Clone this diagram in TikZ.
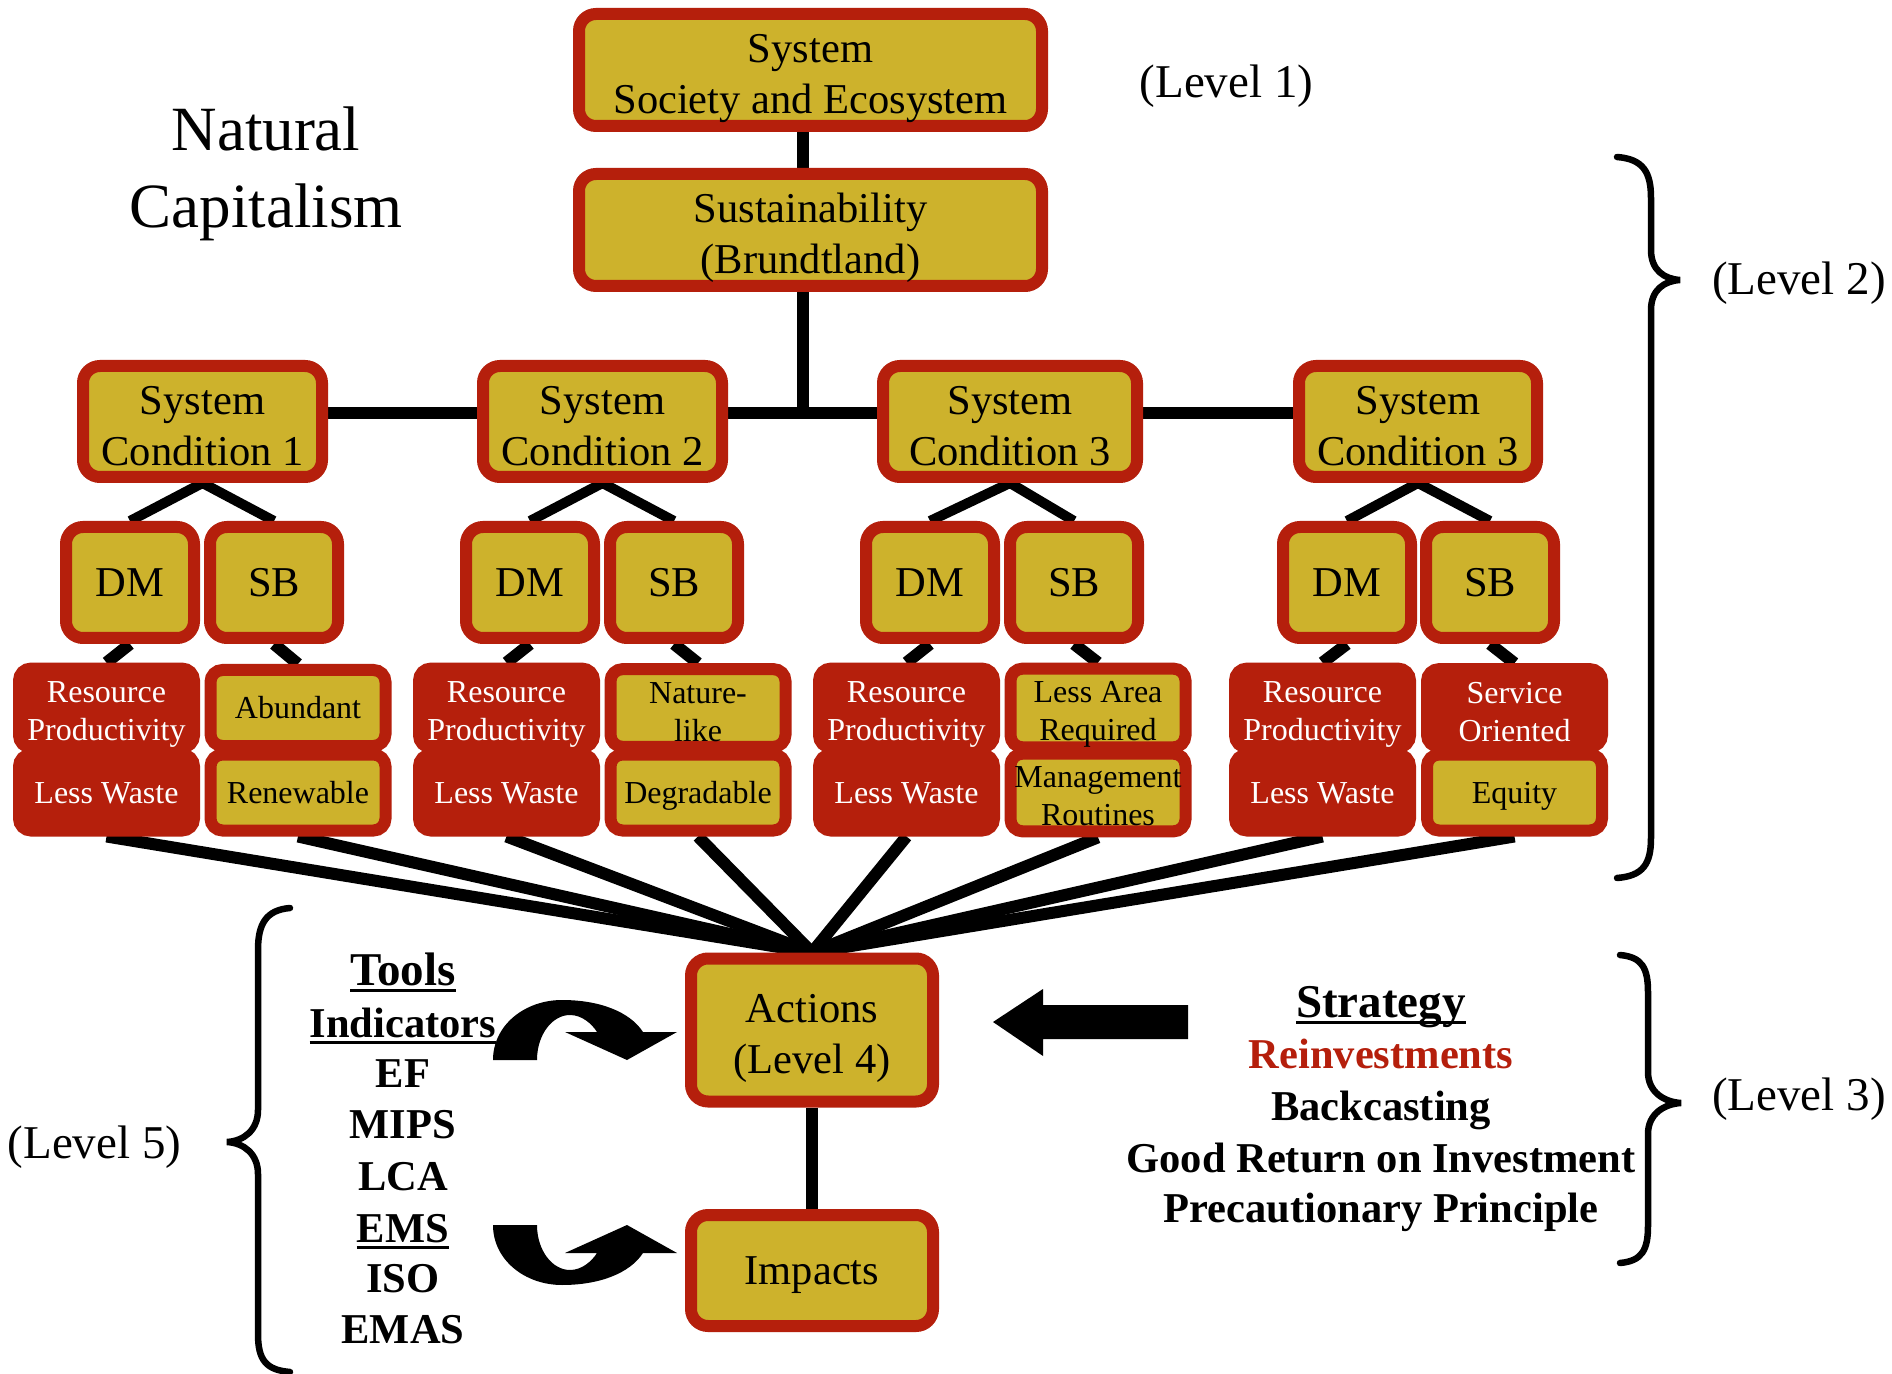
\documentclass[tikz,border=0pt]{standalone}
\usepackage{fontspec}
\setmainfont{Liberation Serif}
\usetikzlibrary{backgrounds}

\definecolor{cred}{RGB}{181,31,12}
\definecolor{cyel}{RGB}{205,178,44}

\newcommand\boxfont{\fontsize{21.25pt}{25.5pt}\selectfont}
\newcommand\lowfont{\fontsize{16pt}{19pt}\selectfont}
\newcommand\lvlfont{\fontsize{23.5pt}{28pt}\selectfont}
\newcommand\titlefont{\fontsize{31.5pt}{38.5pt}\selectfont}
\newcommand\listfont{\fontsize{21.25pt}{25.5pt}\selectfont\bfseries}
\newcommand\headfont{\fontsize{23.5pt}{28pt}\selectfont\bfseries}
% thick underline drawn as a rule under the text
\newcommand\uline[1]{\setbox0\hbox{#1}\leavevmode\rlap{\rule[-3.5pt]{\wd0}{1.5pt}}\box0}
% box labels measured by ascent and descent of the font, not by their ink
\newcommand\ascstrut{\rule{0pt}{0.891em}}
\newcommand\descstrut{\rule[-0.216em]{0pt}{0.216em}}
\newcommand\oneline[1]{\ascstrut#1\descstrut}
\newcommand\twoline[2]{\vbox{\halign{\hfil##\hfil\cr
  \rule{0pt}{1.06em}#1\cr#2\rule[-0.18em]{0pt}{0.18em}\cr}}}

\begin{document}
\begin{tikzpicture}[x=0.5pt,y=-0.5pt,
  mainbox/.style={draw=cred, fill=cyel, line width=6pt, rounded corners=8.5pt,
    inner sep=0pt, font=\boxfont, text=black},
  dmbox/.style={mainbox, minimum width=64pt, minimum height=55.5pt},
  lowbox/.style={draw=cred, line width=6pt, rounded corners=6pt, inner sep=0pt,
    font=\lowfont, minimum width=87.5pt, minimum height=38pt},
  lowy/.style={lowbox, fill=cyel, text=black},
  lowr/.style={lowbox, fill=cred, text=white},
  conn/.style={line width=6pt, black},
  thinconn/.style={line width=5pt, black, line join=miter},
  brace/.style={line width=3.25pt, black, line cap=round},
  lvl/.style={font=\lvlfont, anchor=base, inner sep=0pt},
  tool/.style={font=\listfont, anchor=base, inner sep=0pt},
  toolhead/.style={font=\headfont, anchor=base, inner sep=0pt},
]
\useasboundingbox (0,0) rectangle (1892,1374);

% ---- top of the hierarchy ----
\node[mainbox, minimum width=231.5pt, minimum height=56pt] (sys) at (810.5,70)
  {\twoline{System}{Society and Ecosystem}};
\node[mainbox, minimum width=231.5pt, minimum height=56pt] (sust) at (810.5,230)
  {\twoline{Sustainability}{(Brundtland)}};

% ---- system conditions ----
\node[mainbox, minimum width=119.5pt, minimum height=55.5pt] (sc1) at (202.5,421.5) {\twoline{System}{Condition 1}};
\node[mainbox, minimum width=119.5pt, minimum height=55.5pt] (sc2) at (602.5,421.5) {\twoline{System}{Condition 2}};
\node[mainbox, minimum width=127pt, minimum height=55.5pt] (sc3) at (1010,421.5) {\twoline{System}{Condition 3}};
\node[mainbox, minimum width=119pt, minimum height=55.5pt] (sc4) at (1418,421.5) {\twoline{System}{Condition 3}};

% ---- DM / SB ----
\node[dmbox] (dm1) at (130,582.5) {\oneline{DM}};
\node[dmbox] (sb1) at (274,582.5) {\oneline{SB}};
\node[dmbox] (dm2) at (530,582.5) {\oneline{DM}};
\node[dmbox] (sb2) at (674,582.5) {\oneline{SB}};
\node[dmbox] (dm3) at (930,582.5) {\oneline{DM}};
\node[dmbox] (sb3) at (1074,582.5) {\oneline{SB}};
\node[dmbox] (dm4) at (1347,582.5) {\oneline{DM}};
\node[dmbox] (sb4) at (1490,582.5) {\oneline{SB}};

% ---- principles under each condition ----
\node[lowr] (l1t) at (106.5,708) {\twoline{Resource}{Productivity}};
\node[lowr] (l1b) at (106.5,792.5) {\oneline{Less Waste}};
\node[lowy] (r1t) at (298,708) {\oneline{Abundant}};
\node[lowy] (r1b) at (298,792.5) {\oneline{Renewable}};

\node[lowr] (l2t) at (506.5,708) {\twoline{Resource}{Productivity}};
\node[lowr] (l2b) at (506.5,792.5) {\oneline{Less Waste}};
\node[lowy] (r2t) at (698,708) {\twoline{Nature-}{like}};
\node[lowy] (r2b) at (698,792.5) {\oneline{Degradable}};

\node[lowr] (l3t) at (906.5,708) {\twoline{Resource}{Productivity}};
\node[lowr] (l3b) at (906.5,792.5) {\oneline{Less Waste}};
\node[lowy] (r3t) at (1098,708) {\twoline{Less Area}{Required}};
\node[lowy] (r3b) at (1098,792.5) {\twoline{Management}{Routines}};

\node[lowr] (l4t) at (1322.5,708) {\twoline{Resource}{Productivity}};
\node[lowr] (l4b) at (1322.5,792.5) {\oneline{Less Waste}};
\node[lowr] (r4t) at (1514.5,708) {\twoline{Service}{Oriented}};
\node[lowy] (r4b) at (1514.5,792.5) {\oneline{Equity}};

% ---- actions and impacts ----
\node[mainbox, minimum width=121pt, minimum height=71.5pt] (act) at (812,1030) {\twoline{Actions}{(Level 4)}};
\node[mainbox, minimum width=121pt, minimum height=55.5pt] (imp) at (812,1270.5) {\oneline{Impacts}};

\coordinate (jn) at (803,413);

% ---- connectors (behind the boxes) ----
\begin{pgfonlayer}{background}
  \fill[white] (0,0) rectangle (1892,1374);
  \draw[conn] ([xshift=-3.75pt]sys.south) -- ([xshift=-3.75pt]sust.north);
  \draw[conn] ([xshift=-3.75pt]sust.south) -- (jn);
  \draw[conn] ([yshift=4.25pt]sc1.east) -- ([yshift=4.25pt]sc4.west);
  \foreach \i in {1,2,3,4}{
    \draw[thinconn] (dm\i.north) -- (sc\i.south) -- (sb\i.north);
    \draw[conn] (dm\i.south) -- (l\i t.north);
    \draw[conn] (sb\i.south) -- (r\i t.north);
    \draw[conn] (l\i b.south) -- (act.north);
    \draw[conn] (r\i b.south) -- (act.north);
  }
  \draw[conn] (act.south) -- (imp.north);
\end{pgfonlayer}

% ---- titles and level labels ----
\node[font=\titlefont, align=center, inner sep=0pt] (title) at (266,174) {Natural\\Capitalism};
\node[lvl] (lv1) at (1226.5,98) {(Level 1)};
\node[lvl] (lv2) at (1799,295) {(Level 2)};
\node[lvl] (lv3) at (1799,1110) {(Level 3)};
\node[lvl] (lv5) at (94.5,1158) {(Level 5)};

% ---- braces ----
\draw[brace] (1617,157) .. controls (1643,159) and (1651,172) .. (1651,198)
  -- (1651,250) .. controls (1651,270) and (1664,279) .. (1680,280)
  .. controls (1664,281) and (1651,290) .. (1651,310)
  -- (1651,838) .. controls (1651,864) and (1643,876) .. (1617,878);
\draw[brace] (1620,955) .. controls (1642,957) and (1648,968) .. (1648,992)
  -- (1648,1072) .. controls (1648,1092) and (1664,1102) .. (1681,1103)
  .. controls (1664,1104) and (1648,1114) .. (1648,1134)
  -- (1648,1226) .. controls (1648,1250) and (1642,1261) .. (1620,1263);
\draw[brace] (290,908) .. controls (266,910) and (258,924) .. (258,950)
  -- (258,1110) .. controls (258,1130) and (244,1141) .. (227,1142)
  .. controls (244,1143) and (258,1154) .. (258,1174)
  -- (258,1334) .. controls (258,1360) and (266,1370) .. (290,1372);

% ---- tools column ----
\node[toolhead] (tl1) at (403,985) {\uline{Tools}};
\node[tool] (tl2) at (403,1037) {\uline{Indicators}};
\node[tool] (tl3) at (403,1087) {EF};
\node[tool] (tl4) at (403,1138) {MIPS};
\node[tool] (tl5) at (403,1190) {LCA};
\node[tool] (tl6) at (403,1242) {\uline{EMS}};
\node[tool] (tl7) at (403,1292) {ISO};
\node[tool] (tl8) at (403,1343) {EMAS};

% ---- strategy column ----
\node[toolhead] (st1) at (1381,1017) {\uline{Strategy}};
\node[tool, text=cred] (st2) at (1381,1068) {Reinvestments};
\node[tool] (st3) at (1381,1120) {Backcasting};
\node[tool] (st4) at (1381,1172) {Good Return on Investment};
\node[tool] (st5) at (1381,1222) {Precautionary Principle};

% ---- block arrow from the strategy to the actions ----
\fill[black] (993,1022) -- (1043,989) -- (1043,1005) -- (1188,1005)
  -- (1188,1039) -- (1043,1039) -- (1043,1056) -- cycle;

% ---- curved arrows from the tools ----
\fill[black] (493,1060) -- (537,1060)
  .. controls (537,1035) and (552,1015) .. (570,1015)
  .. controls (582,1015) and (592,1024) .. (597,1032)
  -- (565,1032) -- (627,1060) -- (677,1032) -- (643,1032)
  .. controls (630,1012) and (600,1000) .. (562,1000)
  .. controls (525,1000) and (493,1025) .. (493,1060) -- cycle;
\fill[black] (493,1225) -- (537,1225)
  .. controls (537,1250) and (552,1270) .. (570,1270)
  .. controls (582,1270) and (592,1261) .. (597,1253)
  -- (565,1253) -- (627,1225) -- (677,1253) -- (643,1253)
  .. controls (630,1273) and (600,1285) .. (562,1285)
  .. controls (525,1285) and (493,1260) .. (493,1225) -- cycle;
\end{tikzpicture}
\end{document}
